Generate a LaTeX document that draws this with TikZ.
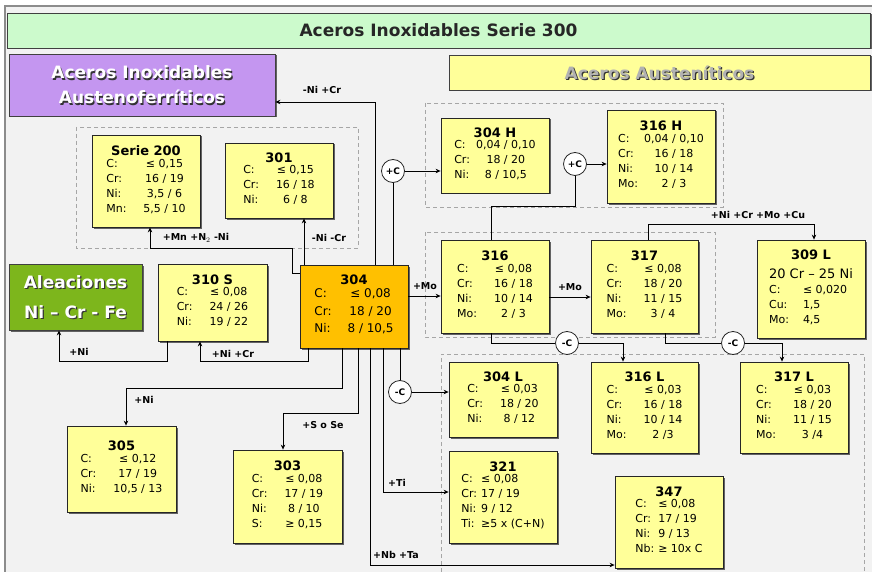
\documentclass[tikz,border=0pt]{standalone}
\usepackage{fontspec}
\setmainfont{DejaVu Sans}
\usetikzlibrary{arrows.meta,shadows}

\definecolor{fondo}{RGB}{242,242,242}
\definecolor{verdeclaro}{RGB}{204,250,204}
\definecolor{lila}{RGB}{196,150,240}
\definecolor{amarillo}{RGB}{255,255,153}
\definecolor{naranja}{RGB}{255,192,0}
\definecolor{verde}{RGB}{125,182,28}
\definecolor{grisclaro}{RGB}{178,178,178}

\newcommand{\ficha}[3][@{\hspace{17pt}}c]{{\fontsize{13}{17}\selectfont\bfseries #2}\\
  \begin{tabular}{@{}l#1@{}}#3\end{tabular}}

\begin{document}
\begin{tikzpicture}[x=1pt,y=-1pt,
    acero/.style={draw=black!85, line width=0.8pt, fill=amarillo, align=center, inner sep=2pt,
      font=\fontsize{11}{15}\selectfont,
      drop shadow={shadow xshift=1.5pt, shadow yshift=-1.5pt, opacity=0.8, fill=black!75}},
    cabecera/.style={draw=black!75, line width=0.8pt,
      drop shadow={shadow xshift=1.5pt, shadow yshift=-1.5pt, opacity=0.8, fill=black!75}},
    relieve/.style={font=\fontsize{17}{25}\selectfont\bfseries, align=center},
    grupo/.style={draw=black!35, dash pattern=on 4pt off 3pt, line width=0.6pt},
    paso/.style={circle, draw=black!85, fill=white, line width=0.8pt, inner sep=0pt,
      minimum size=23pt, font=\fontsize{9}{10}\selectfont\bfseries},
    linea/.style={line width=0.8pt},
    flecha/.style={-{Stealth[length=5pt,width=4.5pt]}, line width=0.8pt},
    etiq/.style={font=\fontsize{9.5}{11}\selectfont\bfseries, inner sep=1pt}]
\useasboundingbox (0,0) rectangle (872,572);
\fill[white] (0,0) rectangle (872,572);
\fill[fondo] (5,6) rectangle (872,572);
\draw[black!45, line width=1.5pt] (5,572) -- (5,6) -- (872,6);

% grupos
\draw[grupo] (76,127) rectangle (358,248);
\draw[grupo] (425,103) rectangle (723,207);
\draw[grupo] (425,232) rectangle (715,337);
\draw[grupo] (441,572) -- (441,354) -- (864,354) -- (864,572);

% cabeceras
\node[cabecera, fill=verdeclaro, minimum width=863pt, minimum height=35pt,
  font=\fontsize{17}{20}\selectfont\bfseries, text=black!85] (titulo) at (438.5,30.5) {Aceros Inoxidables Serie 300};
\node[cabecera, fill=lila, minimum width=266pt, minimum height=62pt] (austenofer) at (142,85) {};
\node[relieve, text=black!80] at (143.2,86.2) {Aceros Inoxidables\\Austenoferríticos};
\node[relieve, text=white] at (142,85) {Aceros Inoxidables\\Austenoferríticos};
\node[cabecera, fill=amarillo, minimum width=421pt, minimum height=35pt] (austeniticos) at (659.5,72.5) {};
\node[relieve, text=black!80] at (660.7,73.7) {Aceros Austeníticos};
\node[relieve, text=grisclaro] at (659.5,72.5) {Aceros Austeníticos};
\node[cabecera, fill=verde, minimum width=133pt, minimum height=66pt] (aleaciones) at (75.5,297) {};
\node[relieve, font=\fontsize{17}{30}\selectfont\bfseries, text=black!80] at (76.7,298.2) {Aleaciones\\Ni – Cr - Fe};
\node[relieve, font=\fontsize{17}{30}\selectfont\bfseries, text=white] at (75.5,297) {Aleaciones\\Ni – Cr - Fe};

% aceros
\node[acero, minimum width=108pt, minimum height=92pt] (serie200) at (146,181)
  {\ficha{Serie 200}{C: & ≤ 0,15\\ Cr: & 16 / 19\\ Ni: & 3,5 / 6\\ Mn: & 5,5 / 10}};
\node[acero, minimum width=108pt, minimum height=75pt] (s301) at (279,180.5)
  {\ficha{301}{C: & ≤ 0,15\\ Cr: & 16 / 18\\ Ni: & 6 / 8}};
\node[acero, minimum width=109pt, minimum height=77pt] (s310S) at (212.5,302.5)
  {\ficha{310 S}{C: & ≤ 0,08\\ Cr: & 24 / 26\\ Ni: & 19 / 22}};
\node[acero, fill=naranja, minimum width=108pt, minimum height=83pt, font=\fontsize{12}{17.5}\selectfont] (s304) at (354,306.5)
  {\ficha[@{\hspace{16pt}}c]{304}{C: & ≤ 0,08\\ Cr: & 18 / 20\\ Ni: & 8 / 10,5}};
\node[acero, minimum width=108pt, minimum height=75pt] (s304H) at (495,155.5)
  {\ficha[@{\hspace{6pt}}c]{304 H}{C: & 0,04 / 0,10\\ Cr: & 18 / 20\\ Ni: & 8 / 10,5}};
\node[acero, minimum width=108pt, minimum height=93pt] (s316H) at (661,156.5)
  {\ficha[@{\hspace{6pt}}c]{316 H}{C: & 0,04 / 0,10\\ Cr: & 16 / 18\\ Ni: & 10 / 14\\ Mo: & 2 / 3}};
\node[acero, minimum width=108pt, minimum height=93pt] (s316) at (495,286.5)
  {\ficha{316}{C: & ≤ 0,08\\ Cr: & 16 / 18\\ Ni: & 10 / 14\\ Mo: & 2 / 3}};
\node[acero, minimum width=107pt, minimum height=93pt] (s317) at (644.5,286.5)
  {\ficha{317}{C: & ≤ 0,08\\ Cr: & 18 / 20\\ Ni: & 11 / 15\\ Mo: & 3 / 4}};
\node[acero, minimum width=108pt, minimum height=98pt] (s309L) at (811,289)
  {\ficha[@{\hspace{14pt}}l]{309 L}{\multicolumn{2}{@{}c@{}}{\rule{0pt}{17pt}\fontsize{13}{17}\selectfont 20 Cr – 25 Ni}\\ C: & ≤ 0,020\\ Cu: & 1,5\\ Mo: & 4,5}};
\node[acero, minimum width=108pt, minimum height=75pt] (s304L) at (503,399.5)
  {\ficha{304 L}{C: & ≤ 0,03\\ Cr: & 18 / 20\\ Ni: & 8 / 12}};
\node[acero, minimum width=107pt, minimum height=91pt] (s316L) at (644.5,407.5)
  {\ficha{316 L}{C: & ≤ 0,03\\ Cr: & 16 / 18\\ Ni: & 10 / 14\\ Mo: & 2 /3}};
\node[acero, minimum width=108pt, minimum height=91pt] (s317L) at (794,407.5)
  {\ficha{317 L}{C: & ≤ 0,03\\ Cr: & 18 / 20\\ Ni: & 11 / 15\\ Mo: & 3 /4}};
\node[acero, minimum width=108pt, minimum height=92pt] (s321) at (503,497)
  {\ficha[@{\hspace{4pt}}l]{321}{C: & ≤ 0,08\\ Cr: & 17 / 19\\ Ni: & 9 / 12\\ Ti: & ≥5 x (C+N)}};
\node[acero, minimum width=108pt, minimum height=92pt] (s347) at (669,522)
  {\ficha[@{\hspace{4pt}}l]{347}{C: & ≤ 0,08\\ Cr: & 17 / 19\\ Ni: & 9 / 13\\ Nb: & ≥ 10x C}};
\node[acero, minimum width=109pt, minimum height=86pt] (s305) at (121.5,469)
  {\ficha{305}{C: & ≤ 0,12\\ Cr: & 17 / 19\\ Ni: & 10,5 / 13}};
\node[acero, minimum width=109pt, minimum height=93pt] (s303) at (287.5,496.5)
  {\ficha{303}{C: & ≤ 0,08\\ Cr: & 17 / 19\\ Ni: & 8 / 10\\ S: & ≥ 0,15}};

% carbono
\node[paso] (c1) at (393,171) {+C};
\node[paso] (c2) at (575,164) {+C};
\node[paso] (c3) at (400,392) {-C};
\node[paso] (c4) at (567,343) {-C};
\node[paso] (c5) at (733,343) {-C};

% conexiones
\draw[flecha] ([xshift=21pt]s304.north) |- ([yshift=-17pt]austenofer.east);
\draw[flecha] ([xshift=-50pt]s304.north) -- ([xshift=-50pt]s304.north |- s301.south);
\draw[flecha] ([yshift=33.5pt]s304.west) -- ++(-7,0) -- ++(0,-25) -| ([xshift=4pt]serie200.south);
\draw[linea] (c1 |- s304.north) -- (c1);
\draw[flecha] (c1) -- (c1 -| s304H.west);
\draw[flecha] ([yshift=10.5pt]s304.east) -- ([yshift=10.5pt]s304.east -| s316.west);
\draw[linea] ([xshift=-4pt]s316.north) -- ++(0,-33) -| (c2);
\draw[flecha] (c2) -- (c2 -| s316H.west);
\draw[flecha] ([yshift=-10.5pt]s316.east) -- ([yshift=-10.5pt]s316.east -| s317.west);
\draw[flecha] ([xshift=3.5pt]s317.north) -- ++(0,-15) -| ([xshift=3pt]s309L.north);
\draw[linea] ([xshift=-4pt]s316.south) |- (c4);
\draw[flecha] (c4) -| ([xshift=-21.5pt]s316L.north);
\draw[linea] ([xshift=20.5pt]s317.south) |- (c5);
\draw[flecha] (c5) -| ([xshift=-12pt]s317L.north);
\draw[linea] (c3 |- s304.south) -- (c3);
\draw[flecha] (c3) -- (c3 -| s304L.west);
\draw[flecha] ([xshift=-46pt]s304.south) -- ++(0,13) -| ([xshift=-12.5pt]s310S.south);
\draw[flecha] ([xshift=-45.5pt]s310S.south) -- ++(0,20) -| ([xshift=-16.5pt]aleaciones.south);
\draw[flecha] ([xshift=-12pt]s304.south) -- ++(0,40) -| ([xshift=4.5pt]s305.north);
\draw[flecha] ([xshift=4pt]s304.south) -- ++(0,65) -| ([xshift=-4.5pt]s303.north);
\draw[flecha] ([xshift=16pt]s304.south) |- ([yshift=-43pt]s347.west);
\draw[flecha] ([xshift=29pt]s304.south) |- ([yshift=5pt]s321.west);

% etiquetas
\node[etiq] (e1) at (322,90) {-Ni +Cr};
\node[etiq] (e2) at (329,238) {-Ni -Cr};
\node[etiq] (e3) at (196,238) {+Mn +N$_2$ -Ni};
\node[etiq] (e4) at (425,286) {+Mo};
\node[etiq] (e5) at (570,287) {+Mo};
\node[etiq] (e6) at (758,215) {+Ni +Cr +Mo +Cu};
\node[etiq] (e7) at (79,352) {+Ni};
\node[etiq] (e8) at (233,354) {+Ni +Cr};
\node[etiq] (e9) at (144,400) {+Ni};
\node[etiq] (e10) at (323,425) {+S o Se};
\node[etiq] (e11) at (397,483) {+Ti};
\node[etiq] (e12) at (396,555) {+Nb +Ta};
\end{tikzpicture}
\end{document}
